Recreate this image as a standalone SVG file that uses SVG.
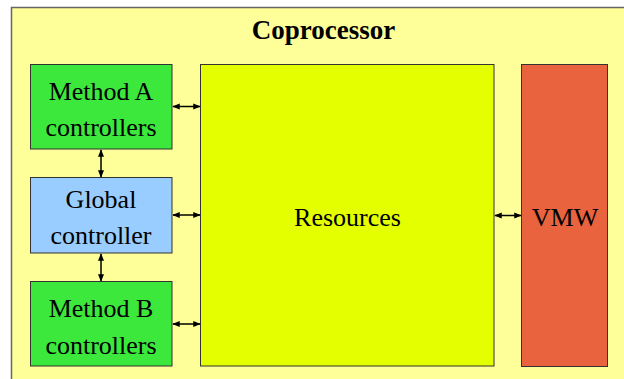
<svg xmlns="http://www.w3.org/2000/svg" width="624" height="379" viewBox="0 0 624 379">
<defs>
<style>
.box{stroke:#333;stroke-width:1}
.lbl{font-family:"Liberation Serif","Times New Roman",serif;font-size:26px;text-anchor:middle;fill:#000}
.conn{stroke:#000;stroke-width:1.5;fill:none;marker-start:url(#ah);marker-end:url(#ah)}
</style>
<marker id="ah" viewBox="0 0 10 10" refX="9" refY="5" markerWidth="5" markerHeight="5" orient="auto-start-reverse" markerUnits="strokeWidth">
<path d="M0,1 L10,5 L0,9 Z" fill="#000"/>
</marker>
</defs>
<rect width="624" height="379" fill="#fff"/>
<g id="coprocessor">
<rect x="11.5" y="7.5" width="630" height="390" fill="#ffff99" stroke="#666" stroke-width="1.5"/>
<text x="323.5" y="39" class="lbl" style="font-weight:bold;font-size:27px">Coprocessor</text>
</g>
<g id="methodA">
<rect class="box" x="30.5" y="64.5" width="141.5" height="84.5" fill="#3ce83c"/>
<text class="lbl" x="101" y="99.5">Method A</text>
<text class="lbl" x="101" y="136">controllers</text>
</g>
<g id="global">
<rect class="box" x="30.5" y="177.5" width="141.5" height="75.5" fill="#99ccff"/>
<text class="lbl" x="101" y="207.5">Global</text>
<text class="lbl" x="101" y="244">controller</text>
</g>
<g id="methodB">
<rect class="box" x="30.5" y="281.5" width="141.5" height="84.5" fill="#3ce83c"/>
<text class="lbl" x="101" y="317">Method B</text>
<text class="lbl" x="101" y="354">controllers</text>
</g>
<g id="resources">
<rect class="box" x="200.5" y="64.5" width="293.5" height="301.5" fill="#e3ff00"/>
<text class="lbl" x="347.5" y="226">Resources</text>
</g>
<g id="vmw">
<rect class="box" x="521.5" y="64.5" width="86" height="302" fill="#e8633e"/>
<text class="lbl" x="565" y="226">VMW</text>
</g>
<g id="connectors">
<line class="conn" x1="173" y1="106.5" x2="200" y2="106.5"/>
<line class="conn" x1="173" y1="215" x2="200" y2="215"/>
<line class="conn" x1="173" y1="324" x2="200" y2="324"/>
<line class="conn" x1="495" y1="215.5" x2="521" y2="215.5"/>
<line class="conn" x1="101" y1="150" x2="101" y2="177"/>
<line class="conn" x1="101" y1="254" x2="101" y2="281"/>
</g>
</svg>
